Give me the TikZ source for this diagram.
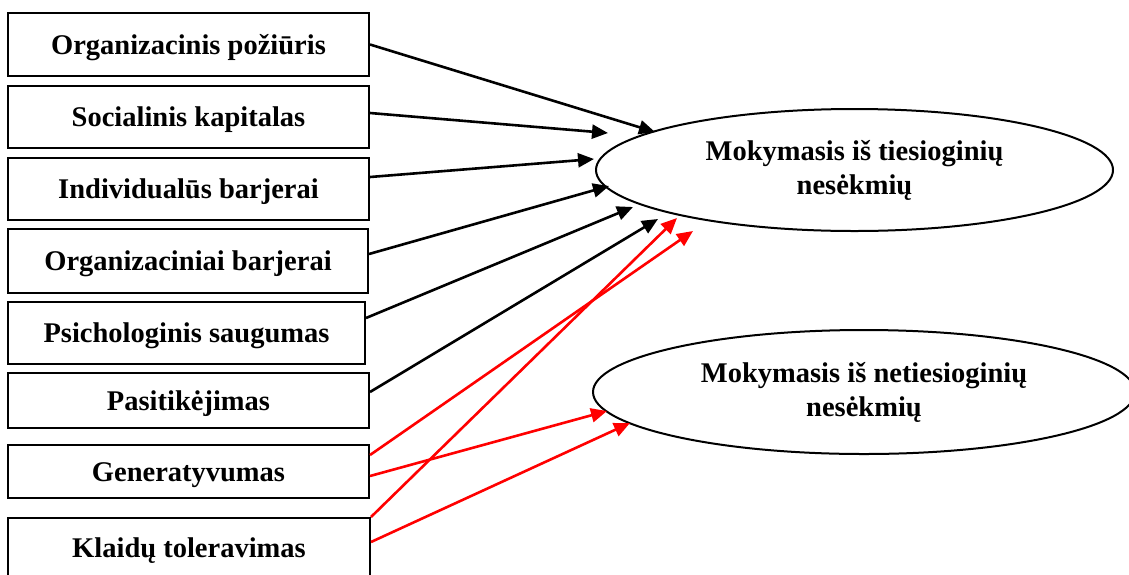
\documentclass[tikz,border=0pt]{standalone}
\usepackage{fontspec}
\setmainfont{Liberation Serif}
\usetikzlibrary{shapes.geometric,arrows.meta}

\begin{document}
\begin{tikzpicture}[x=1pt,y=-1pt,
  txt/.style={font=\fontsize{28.5}{34}\selectfont\bfseries},
  factor/.style={txt,draw=black,line width=2pt,rectangle,inner sep=0pt,
    text height=19pt,text depth=0pt},
  outcome/.style={txt,draw=black,line width=2pt,ellipse,inner sep=0pt,align=center},
  link/.style={line width=2.6pt,-{Triangle[length=16pt,width=14pt]}},
  blacklink/.style={link,black},
  redlink/.style={link,red}]

  % canvas
  \clip (0,0) rectangle (1129,574);
  \fill[white] (0,0) rectangle (1129,574);

  % factor boxes
  \node[factor,minimum width=361pt,minimum height=63pt] (b1) at (188.5,44.5) {Organizacinis požiūris};
  \node[factor,minimum width=361pt,minimum height=62pt] (b2) at (188.5,117) {Socialinis kapitalas};
  \node[factor,minimum width=361pt,minimum height=62pt] (b3) at (188.5,189) {Individualūs barjerai};
  \node[factor,minimum width=360pt,minimum height=64pt] (b4) at (188,261) {Organizaciniai barjerai};
  \node[factor,minimum width=357pt,minimum height=62pt] (b5) at (186.5,333) {Psichologinis saugumas};
  \node[factor,minimum width=361pt,minimum height=55pt] (b6) at (188.5,400.5) {Pasitikėjimas};
  \node[factor,minimum width=361pt,minimum height=53pt] (b7) at (188.5,471.5) {Generatyvumas};
  \node[factor,minimum width=362pt,minimum height=59pt] (b8) at (189,547.5) {Klaidų toleravimas};

  % outcomes
  \node[outcome,minimum width=517pt,minimum height=122pt] (e1) at (854.5,170)
    {Mokymasis iš tiesioginių\\nesėkmių};
  \node[outcome,minimum width=542pt,minimum height=124pt] (e2) at (864,392)
    {Mokymasis iš netiesioginių\\nesėkmių};

  % arrow tips
  \coordinate (t1) at (655,132);
  \coordinate (t2) at (608,133);
  \coordinate (t3) at (594,159);
  \coordinate (t4) at (609,186);
  \coordinate (t5) at (633,207);
  \coordinate (t6) at (658,219);
  \coordinate (r1) at (693,231);
  \coordinate (r2) at (677,218);
  \coordinate (r3) at (607,411);
  \coordinate (r4) at (630,423);

  % links to direct-failure learning
  \draw[blacklink] (b1.east) -- (t1);
  \draw[blacklink] ([yshift=4pt]b2.east) -- (t2);
  \draw[blacklink] ([yshift=12pt]b3.east) -- (t3);
  \draw[blacklink] ([yshift=7pt]b4.east) -- (t4);
  \draw[blacklink] ([yshift=15pt]b5.east) -- (t5);
  \draw[blacklink] ([yshift=8.5pt]b6.east) -- (t6);
  \draw[redlink] ([yshift=16.5pt]b7.east) -- (r1);
  \draw[redlink] (b8.north east) -- (r2);

  % links to indirect-failure learning
  \draw[redlink] ([yshift=-4.5pt]b7.east) -- (r3);
  \draw[redlink] ([yshift=5.5pt]b8.east) -- (r4);
\end{tikzpicture}
\end{document}
